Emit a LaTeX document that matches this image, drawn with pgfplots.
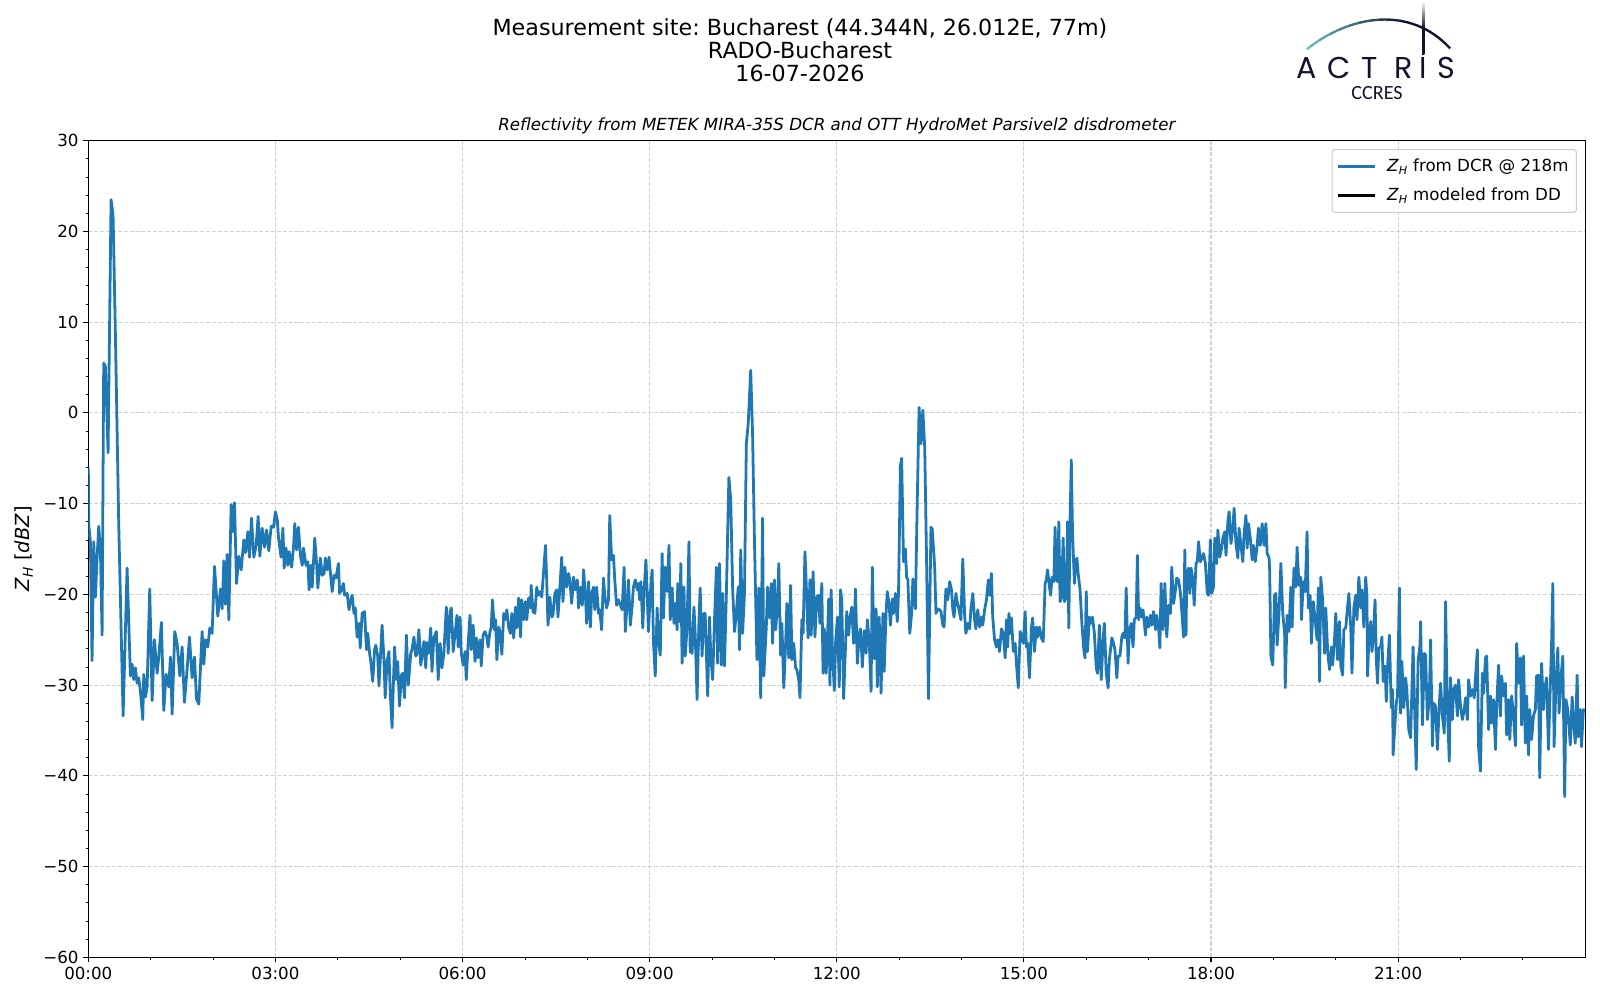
\documentclass[border=0pt]{standalone}
\usepackage{pgfplots}
\pgfplotsset{compat=1.18}
\usepackage{pgfplotstable}
\usepackage{fontspec}
\setmainfont{DejaVu Sans}
\newfontfamily\logofont{Poppins}
\newfontfamily\ccresfont{Carlito}
\definecolor{mplblue}{HTML}{1F77B4}
\definecolor{navy}{HTML}{12122E}
\definecolor{teala}{HTML}{72C6C0}
\definecolor{gridgray}{HTML}{D3D3D3}
\definecolor{legedge}{HTML}{CCCCCC}
\newcommand{\ZH}{\textit{Z}\textsubscript{\textit{H}}}

\pgfplotstableread{
h z
0 -6
0.007 -12.3
0.033 -14.2
0.060 -27.3
0.087 -14.2
0.114 -20.3
0.140 -16.1
0.167 -12.5
0.194 -15.0
0.221 -24.5
0.247 5.5
0.274 5.1
0.317 -4.4
0.365 23.5
0.397 21.8
0.435 8.5
0.488 -12.3
0.558 -33.4
0.622 -17.1
0.675 -29.0
0.702 -27.7
0.729 -29.4
0.755 -28.1
0.782 -29.8
0.809 -29.2
0.836 -30.7
0.873 -33.8
0.889 -28.8
0.916 -31.3
0.943 -30.2
0.985 -19.4
1.023 -31.7
1.060 -25.0
1.103 -28.7
1.130 -26.9
1.172 -23.1
1.210 -32.8
1.247 -28.8
1.290 -30.2
1.317 -26.9
1.344 -33.2
1.386 -24.1
1.424 -25.4
1.467 -29.0
1.504 -25.8
1.541 -31.9
1.584 -28.3
1.622 -24.7
1.664 -29.2
1.702 -26.9
1.734 -31.5
1.771 -32.1
1.825 -24.1
1.852 -27.7
1.878 -25.0
1.916 -25.8
1.948 -23.7
1.985 -24.3
2.023 -16.9
2.076 -22.4
2.119 -19.4
2.146 -21.6
2.173 -16.3
2.199 -21.1
2.226 -15.6
2.253 -22.8
2.290 -10.1
2.322 -13.1
2.344 -9.9
2.376 -18.8
2.413 -15.8
2.451 -17.3
2.493 -14.0
2.520 -15.4
2.558 -13.1
2.584 -15.9
2.616 -11.6
2.654 -15.9
2.691 -14.6
2.723 -11.4
2.750 -15.8
2.787 -12.7
2.825 -14.8
2.857 -12.9
2.894 -15.2
2.932 -12.5
2.97 -12.6
3.00 -10.9
3.03 -11.8
3.05 -13.8
3.09 -15.9
3.12 -12.7
3.14 -17.1
3.17 -14.9
3.20 -16.8
3.22 -15.3
3.26 -17.0
3.29 -14.8
3.31 -12.2
3.34 -15.1
3.37 -12.6
3.40 -15.7
3.43 -16.8
3.45 -14.9
3.49 -16.8
3.52 -16.4
3.54 -19.5
3.57 -16.8
3.59 -19.2
3.63 -13.8
3.66 -16.6
3.68 -19.3
3.72 -16.0
3.75 -17.9
3.78 -17.7
3.80 -16.0
3.83 -17.3
3.86 -15.9
3.88 -17.5
3.91 -19.7
3.94 -17.9
3.97 -18.2
4.01 -16.6
4.03 -19.9
4.06 -19.5
4.09 -18.8
4.11 -20.1
4.15 -19.9
4.18 -21.7
4.20 -20.8
4.23 -20.1
4.26 -22.1
4.28 -21.5
4.31 -24.7
4.34 -23.2
4.36 -25.9
4.39 -22.1
4.43 -21.9
4.46 -26.1
4.48 -24.3
4.51 -26.5
4.53 -27.4
4.56 -29.6
4.59 -26.1
4.61 -25.6
4.64 -26.8
4.66 -30.1
4.71 -23.4
4.74 -27.2
4.76 -31.4
4.79 -27.4
4.82 -26.3
4.84 -30.7
4.87 -34.7
4.89 -30.1
4.91 -25.8
4.94 -29.4
4.96 -27.4
4.99 -32.3
5.02 -28.9
5.04 -28.7
5.07 -31.4
5.10 -24.5
5.13 -30.0
5.17 -26.5
5.19 -26.1
5.22 -24.7
5.25 -26.8
5.27 -26.6
5.30 -23.9
5.33 -27.8
5.35 -26.8
5.38 -25.2
5.41 -28.1
5.43 -25.3
5.46 -26.5
5.49 -23.7
5.51 -28.5
5.54 -24.8
5.58 -24.1
5.61 -29.4
5.64 -25.4
5.67 -28.1
5.70 -26.5
5.74 -21.4
5.77 -26.5
5.80 -21.9
5.82 -21.5
5.85 -26.3
5.91 -22.3
5.93 -25.8
5.96 -22.5
5.98 -26.5
6.01 -27.8
6.04 -26.3
6.06 -29.4
6.09 -25.4
6.12 -22.3
6.14 -26.1
6.17 -23.4
6.20 -27.4
6.22 -24.8
6.25 -27.0
6.28 -25.0
6.30 -27.9
6.33 -24.5
6.36 -24.1
6.39 -24.7
6.41 -25.8
6.44 -24.1
6.46 -23.6
6.48 -20.6
6.51 -23.9
6.53 -22.8
6.55 -27.2
6.58 -23.6
6.60 -24.1
6.63 -26.6
6.66 -22.1
6.68 -22.8
6.71 -21.7
6.74 -23.7
6.77 -24.3
6.79 -22.1
6.82 -24.8
6.85 -21.4
6.87 -23.7
6.90 -20.4
6.93 -24.7
6.95 -20.6
6.98 -22.8
7.01 -20.8
7.03 -22.8
7.06 -20.4
7.09 -21.5
7.10 -19.0
7.13 -21.9
7.16 -22.1
7.19 -19.2
7.21 -20.1
7.24 -19.7
7.27 -20.3
7.29 -18.4
7.33 -14.6
7.35 -18.6
7.37 -23.4
7.40 -20.3
7.43 -22.5
7.45 -22.3
7.48 -19.9
7.51 -19.5
7.53 -22.5
7.56 -19.3
7.59 -15.9
7.61 -20.8
7.64 -17.0
7.67 -19.2
7.70 -17.7
7.72 -18.4
7.75 -21.0
7.78 -18.1
7.81 -19.5
7.84 -18.4
7.86 -21.5
7.89 -19.2
7.92 -21.2
7.94 -17.3
7.97 -20.1
7.99 -23.2
8.02 -18.6
8.05 -23.6
8.07 -19.9
8.10 -19.2
8.12 -21.7
8.15 -19.2
8.18 -22.1
8.20 -21.7
8.23 -23.9
8.26 -18.2
8.28 -20.1
8.31 -21.5
8.34 -20.6
8.36 -11.3
8.39 -16.2
8.42 -15.7
8.44 -18.4
8.47 -21.2
8.50 -20.6
8.52 -21.0
8.56 -21.7
8.59 -17.0
8.61 -24.1
8.64 -20.8
8.66 -18.4
8.69 -23.4
8.72 -21.2
8.74 -19.2
8.77 -18.4
8.80 -19.5
8.82 -18.8
8.84 -20.6
8.86 -18.6
8.89 -23.7
8.91 -19.7
8.94 -16.2
8.96 -19.7
8.98 -24.1
9.01 -19.9
9.04 -17.3
9.06 -25.2
9.09 -29.0
9.12 -21.5
9.14 -25.0
9.17 -26.7
9.20 -15.5
9.22 -22.6
9.25 -17.0
9.28 -19.7
9.31 -14.6
9.33 -22.8
9.36 -19.3
9.39 -23.2
9.41 -21.0
9.44 -23.9
9.45 -18.8
9.48 -23.0
9.50 -16.6
9.52 -27.6
9.55 -19.2
9.57 -26.8
9.60 -23.6
9.63 -14.2
9.65 -26.3
9.68 -26.5
9.71 -21.4
9.73 -24.3
9.76 -31.6
9.79 -23.0
9.81 -19.3
9.84 -26.8
9.87 -22.1
9.89 -22.1
9.93 -31.2
9.96 -22.5
9.98 -26.8
10.01 -29.4
10.04 -22.8
10.07 -17.0
10.09 -27.6
10.12 -16.6
10.15 -27.8
10.17 -19.9
10.20 -27.9
10.23 -19.9
10.27 -7.1
10.30 -9.6
10.33 -19.3
10.36 -24.1
10.38 -22.8
10.42 -19.2
10.44 -26.1
10.46 -15.1
10.49 -24.3
10.52 -19.9
10.55 -3.4
10.58 -1.2
10.62 4.7
10.65 -2.3
10.68 -14.0
10.72 -27.2
10.75 -19.3
10.78 -31.4
10.81 -11.6
10.83 -29.0
10.87 -23.6
10.89 -19.2
10.92 -22.6
10.95 -18.8
10.97 -25.4
11.00 -18.4
11.02 -23.9
11.05 -21.2
11.07 -16.6
11.10 -26.7
11.12 -23.2
11.15 -30.3
11.18 -25.4
11.20 -21.0
11.23 -27.0
11.26 -19.0
11.28 -27.2
11.31 -25.4
11.34 -28.1
11.36 -28.3
11.39 -29.4
11.41 -31.4
11.44 -22.8
11.46 -24.3
11.49 -15.3
11.52 -20.6
11.54 -24.8
11.57 -18.4
11.59 -24.5
11.62 -17.5
11.65 -24.7
11.68 -20.3
11.71 -20.1
11.73 -23.2
11.76 -18.8
11.78 -28.7
11.80 -23.8
11.83 -28.7
11.85 -25.0
11.87 -20.5
11.89 -30.0
11.91 -19.5
11.93 -26.1
11.96 -30.6
11.98 -25.4
12.01 -22.5
12.04 -30.2
12.06 -19.5
12.08 -20.6
12.11 -31.5
12.13 -27.6
12.16 -21.9
12.19 -24.5
12.21 -22.7
12.24 -21.4
12.27 -25.4
12.30 -19.4
12.33 -27.6
12.36 -24.3
12.38 -23.8
12.41 -28.0
12.44 -24.0
12.47 -26.5
12.49 -22.8
12.52 -25.0
12.55 -30.7
12.57 -17.0
12.60 -27.1
12.63 -21.6
12.65 -30.2
12.68 -22.5
12.71 -30.9
12.74 -22.1
12.76 -28.5
12.79 -22.1
12.81 -19.7
12.84 -21.2
12.86 -23.4
12.89 -20.5
12.91 -22.1
12.94 -19.9
12.97 -23.0
12.99 -19.9
13.02 -5.8
13.04 -5.0
13.07 -16.4
13.10 -15.0
13.12 -18.1
13.14 -18.4
13.17 -24.3
13.20 -22.1
13.22 -18.3
13.26 -21.6
13.29 -9.8
13.32 0.6
13.35 -3.4
13.38 0.3
13.41 -3.8
13.44 -16.4
13.47 -31.5
13.51 -12.6
13.53 -12.8
13.57 -17.0
13.59 -22.1
13.62 -21.6
13.65 -21.7
13.67 -21.9
13.70 -23.4
13.72 -23.6
13.75 -19.4
13.78 -20.6
13.81 -18.6
13.84 -19.5
13.86 -21.7
13.88 -22.5
13.91 -19.9
13.93 -20.8
13.96 -21.7
13.99 -22.8
14.02 -16.1
14.05 -22.3
14.07 -24.3
14.10 -23.2
14.13 -23.8
14.15 -21.7
14.18 -19.9
14.21 -22.8
14.23 -23.8
14.26 -21.7
14.29 -23.6
14.32 -22.5
14.34 -23.4
14.37 -21.7
14.40 -20.6
14.43 -18.4
14.45 -20.1
14.48 -17.7
14.50 -22.5
14.53 -25.0
14.56 -25.8
14.58 -25.0
14.61 -26.3
14.64 -23.8
14.67 -24.3
14.70 -27.0
14.72 -22.8
14.74 -25.8
14.76 -22.1
14.78 -24.3
14.80 -22.6
14.83 -26.3
14.86 -25.4
14.88 -27.6
14.91 -30.3
14.94 -24.1
14.96 -24.5
14.99 -25.4
15.02 -21.9
15.04 -25.8
15.06 -25.4
15.09 -29.2
15.12 -23.7
15.14 -22.6
15.17 -26.3
15.20 -23.6
15.22 -24.7
15.25 -23.6
15.28 -24.8
15.31 -25.2
15.34 -18.8
15.36 -18.4
15.38 -17.3
15.41 -19.2
15.43 -20.1
15.45 -18.1
15.48 -18.6
15.50 -12.6
15.52 -18.4
15.54 -18.6
15.56 -12.0
15.58 -20.8
15.60 -20.4
15.63 -13.8
15.65 -20.8
15.68 -20.3
15.70 -12.0
15.72 -23.7
15.74 -11.8
15.76 -5.2
15.78 -13.3
15.81 -18.8
15.83 -16.4
15.85 -16.0
15.87 -17.7
15.90 -19.5
15.93 -23.2
15.96 -26.1
15.98 -27.0
16.00 -19.7
16.02 -26.3
16.05 -22.5
16.07 -23.2
16.10 -22.5
16.13 -24.3
16.16 -28.1
16.18 -28.7
16.21 -23.4
16.24 -29.4
16.27 -25.0
16.29 -23.2
16.32 -28.7
16.35 -30.3
16.37 -27.2
16.41 -24.8
16.43 -25.2
16.46 -26.1
16.49 -29.2
16.51 -26.8
16.54 -26.8
16.57 -24.7
16.59 -24.3
16.62 -24.8
16.64 -19.3
16.67 -27.6
16.69 -24.3
16.72 -23.2
16.75 -25.8
16.77 -22.8
16.80 -22.5
16.82 -15.7
16.84 -22.8
16.86 -21.5
16.89 -22.5
16.91 -21.7
16.95 -24.5
16.97 -22.5
17.00 -23.6
17.03 -22.3
17.05 -23.4
17.08 -21.9
17.11 -23.9
17.13 -22.3
17.16 -23.8
17.18 -25.9
17.20 -18.8
17.23 -23.9
17.26 -18.8
17.29 -24.7
17.32 -21.2
17.35 -22.1
17.37 -17.0
17.40 -21.0
17.43 -19.5
17.45 -18.2
17.48 -18.4
17.51 -19.9
17.53 -21.7
17.56 -24.7
17.58 -15.1
17.60 -24.5
17.61 -18.1
17.64 -17.1
17.66 -19.9
17.68 -17.1
17.71 -18.4
17.73 -21.2
17.76 -16.6
17.78 -16.4
17.80 -14.2
17.83 -16.4
17.86 -15.9
17.88 -15.5
17.91 -16.6
17.94 -19.9
17.96 -20.1
17.99 -14.0
18.01 -19.9
18.04 -19.2
18.06 -13.8
18.09 -16.6
18.11 -12.9
18.14 -15.9
18.17 -14.9
18.19 -13.8
18.22 -13.1
18.24 -15.7
18.27 -12.0
18.29 -10.9
18.32 -14.4
18.35 -12.6
18.37 -10.5
18.40 -14.4
18.43 -16.0
18.45 -12.7
18.48 -14.6
18.51 -16.4
18.53 -13.3
18.56 -11.3
18.58 -14.9
18.60 -12.2
18.63 -13.8
18.66 -16.2
18.68 -14.6
18.71 -16.4
18.74 -14.6
18.76 -12.7
18.79 -14.6
18.82 -12.2
18.85 -14.6
18.88 -12.2
18.90 -15.5
18.93 -15.9
18.94 -17.3
18.96 -26.8
18.99 -27.8
19.02 -20.1
19.04 -19.9
19.06 -25.6
19.09 -22.1
19.12 -16.6
19.15 -22.1
19.18 -24.3
19.19 -30.3
19.22 -22.3
19.25 -24.1
19.28 -19.2
19.30 -23.6
19.33 -17.1
19.36 -19.2
19.38 -14.8
19.41 -19.0
19.44 -18.1
19.45 -22.8
19.48 -18.6
19.51 -19.7
19.54 -13.1
19.56 -21.5
19.59 -20.1
19.61 -25.4
19.64 -20.8
19.67 -22.8
19.70 -25.0
19.72 -19.3
19.74 -29.6
19.76 -18.1
19.79 -20.6
19.82 -26.5
19.84 -21.5
19.87 -26.3
19.90 -28.3
19.93 -25.8
19.95 -27.8
19.98 -25.0
20.00 -22.1
20.03 -27.2
20.06 -23.0
20.08 -27.9
20.11 -28.9
20.13 -23.9
20.16 -23.7
20.18 -22.1
20.21 -19.9
20.24 -23.6
20.26 -28.7
20.29 -21.5
20.32 -20.1
20.34 -22.8
20.37 -18.1
20.40 -21.5
20.42 -19.5
20.45 -23.6
20.48 -18.1
20.50 -20.3
20.51 -29.0
20.53 -25.0
20.56 -23.0
20.58 -26.3
20.60 -25.0
20.63 -20.6
20.65 -27.2
20.67 -29.8
20.69 -25.9
20.72 -25.8
20.74 -24.7
20.76 -29.6
20.79 -27.9
20.81 -31.8
20.83 -28.1
20.86 -24.5
20.89 -32.5
20.91 -30.5
20.92 -37.7
20.95 -34.2
20.97 -32.0
20.99 -31.2
21.02 -19.3
21.04 -33.1
21.06 -27.4
21.09 -32.5
21.12 -29.2
21.14 -30.5
21.17 -34.9
21.20 -35.8
21.22 -30.7
21.24 -25.8
21.27 -34.2
21.29 -39.3
21.32 -27.4
21.35 -25.6
21.36 -23.0
21.39 -34.4
21.42 -26.5
21.44 -26.7
21.47 -33.8
21.50 -31.4
21.52 -25.0
21.55 -36.7
21.57 -32.0
21.60 -32.3
21.63 -37.1
21.66 -32.1
21.68 -29.8
21.71 -33.4
21.74 -35.3
21.76 -20.8
21.79 -32.5
21.82 -38.4
21.84 -29.2
21.87 -33.8
21.89 -30.5
21.92 -30.0
21.95 -33.4
21.97 -29.4
22.00 -32.3
22.03 -33.8
22.06 -32.7
22.08 -31.4
22.11 -33.8
22.13 -29.4
22.16 -31.2
22.19 -30.5
22.22 -31.4
22.24 -29.2
22.27 -26.1
22.29 -36.9
22.32 -39.5
22.35 -28.7
22.37 -30.9
22.40 -27.0
22.42 -26.8
22.45 -34.9
22.48 -31.2
22.50 -34.2
22.53 -31.6
22.56 -37.1
22.58 -32.3
22.61 -27.8
22.64 -33.4
22.66 -29.0
22.69 -31.2
22.72 -29.8
22.74 -35.5
22.77 -31.6
22.79 -36.0
22.82 -31.2
22.85 -33.4
22.88 -36.7
22.90 -25.4
22.93 -29.8
22.96 -27.0
22.98 -34.4
23.01 -26.8
23.04 -36.4
23.06 -31.2
23.09 -37.7
23.11 -32.7
23.14 -36.0
23.17 -33.4
23.20 -32.7
23.22 -29.0
23.25 -28.9
23.27 -40.2
23.30 -27.6
23.33 -32.7
23.35 -30.5
23.38 -29.2
23.41 -37.1
23.44 -30.0
23.46 -25.5
23.48 -18.8
23.50 -36.8
23.53 -29.8
23.56 -25.9
23.58 -33.1
23.61 -29.2
23.64 -26.8
23.67 -42.3
23.69 -31.6
23.72 -32.7
23.74 -34.6
23.76 -36.6
23.79 -31.3
23.81 -33.8
23.84 -36.4
23.87 -28.9
23.89 -35.7
23.92 -32.7
23.94 -36.8
23.97 -32.7
24.00 -32.9
}\dcr

\begin{document}
\frenchspacing
\begin{tikzpicture}
\useasboundingbox (0,0) rectangle (1152pt,720pt);
\begin{axis}[
  at={(63.58pt,30.74pt)}, anchor=south west,
  scale only axis, width=1077.8pt, height=587.95pt,
  xmin=0, xmax=24, ymin=-60, ymax=30,
  xtick={0,3,...,21},
  xticklabels={00:00,03:00,06:00,09:00,12:00,15:00,18:00,21:00},
  minor xtick={1,2,4,5,7,8,10,11,13,14,16,17,19,20,22,23},
  ytick={-60,-50,...,30},
  yticklabels={−60,−50,−40,−30,−20,−10,0,10,20,30},
  minor ytick={-58,-56,...,28},
  tick align=outside, tick pos=left,
  major tick length=3.5pt, minor tick length=2pt,
  tick style={black, line width=0.8pt},
  minor tick style={black, line width=0.6pt},
  axis line style={line width=0.8pt},
  xmajorgrids, ymajorgrids,
  major grid style={gridgray, line width=0.8pt, dash pattern=on 2.96pt off 1.28pt},
  tick label style={font=\fontsize{12}{14.4}\selectfont},
  legend cell align=left,
  legend image code/.code={\draw[#1] (0pt,0pt) -- (26pt,0pt);},
  legend style={at={(1,1)}, anchor=north east, xshift=-6pt, yshift=-6pt,
    draw=legedge, line width=0.8pt, rounded corners=2pt, fill=white, fill opacity=0.8, text opacity=1, draw opacity=1,
    font=\fontsize{12}{14.4}\selectfont, inner xsep=3.6pt, inner ysep=5pt,
    row sep=6pt, column sep=6pt},
  clip mode=individual,
]
\addplot[mplblue, line width=2pt, line join=round] table[x=h, y=z] {\dcr};
\addlegendentry{\ZH{} from DCR @ 218m}
\addlegendimage{black, line width=2pt}
\addlegendentry{\ZH{} modeled from DD}
\end{axis}

% titles and logo, in pixel units of the 1600x1000 picture
\begin{scope}[shift={(0pt,720pt)}, x=0.72pt, y=-0.72pt]
  \node[anchor=base, inner sep=0pt, font=\fontsize{16}{18}\selectfont] at (800,35.5) {Measurement site: Bucharest (44.344N, 26.012E, 77m)};
  \node[anchor=base, inner sep=0pt, font=\fontsize{16}{18}\selectfont] at (800,58.8) {RADO-Bucharest};
  \node[anchor=base, inner sep=0pt, font=\fontsize{16}{18}\selectfont] at (800,82) {16-07-2026};
  \node[anchor=base, inner sep=0pt, font=\fontsize{12}{14.4}\selectfont\itshape] at (836.8,130.5) {Reflectivity from METEK MIRA-35S DCR and OTT HydroMet Parsivel2 disdrometer};
  \node[rotate=90, inner sep=0pt, font=\fontsize{14}{16.8}\selectfont] at (24,549) {\ZH{} [\textit{dBZ}]};
  % logo arc
  \foreach \i in {0,...,16} {
    \pgfmathtruncatemacro{\c}{min(100,\i*10)}
    \begin{scope}
      \clip (1299.7+\i*10, -5) rectangle (1310.3+\i*10, 60);
      \draw[navy!\c!teala, line width=1.7pt] (1306.7,49.3) .. controls (1350,15) and (1410,5) .. (1450,48.3);
    \end{scope}
  }
  \foreach \l/\x in {A/1306.7, C/1338.7, T/1369.8, R/1403.3, I/1423.3, S/1446.2} {
    \node[anchor=base, inner sep=0pt, text=navy, font=\logofont\fontsize{21.7}{24}\selectfont] at (\x,78.3) {\l};
  }
  \node[anchor=base, inner sep=0pt, text=navy, font=\ccresfont\fontsize{14.5}{16}\selectfont] at (1377,99.5) {CCRES};
\end{scope}
\shade[top color=white, bottom color=navy, middle color=navy] (1024.0pt,681.0pt) rectangle (1025.6pt,719pt);
\end{tikzpicture}
\end{document}
